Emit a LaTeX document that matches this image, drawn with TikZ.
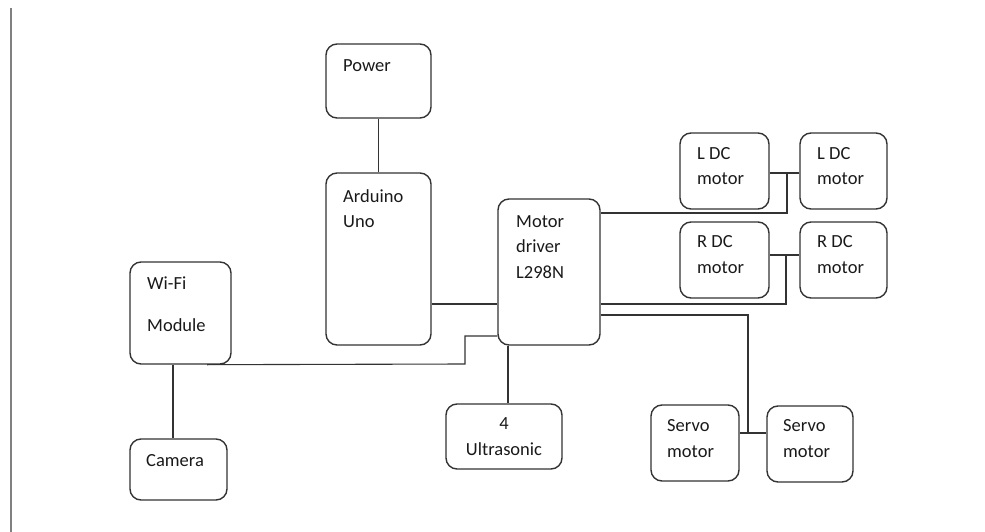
\documentclass[tikz,border=0pt]{standalone}
\usepackage{fontspec}
\setmainfont{Carlito}
\usetikzlibrary{positioning}

\definecolor{ink}{HTML}{333333}

\tikzset{
  blk/.style={draw=ink, line width=1.4pt, rounded corners=11pt, inner sep=0pt},
  lbl/.style={font=\fontsize{18.5}{25.5}\selectfont, text=black!90, inner sep=0pt, anchor=base west, align=left},
  wire/.style={draw=ink, line width=1.1pt}
}

\begin{document}
\begin{tikzpicture}[x=1pt, y=-1pt] % y grows downward, like the image

    \useasboundingbox (0,0) rectangle (985,532);

    % Margin line
    \draw[gray, line width=1.2pt] (11,8) -- (11,532);

    % Blocks
    \foreach \n/\x/\y/\w/\h in {power/378.5/81/105/74, ard/378.5/259/105/172,
        drv/549/272/102/146, wifi/180.5/313/101/102, cam/178.5/469.5/97/61,
        ultra/504/436.5/116/65, ldcA/724.5/171/89/76, ldcB/843.5/171/87/76,
        rdcA/724.5/260/89/76, rdcB/843.5/260/87/76,
        srvA/695/443/88/76, srvB/810/444/86/76}
      \node[blk, minimum width=\w pt, minimum height=\h pt] (\n) at (\x,\y) {};

    % Labels (base = baseline of the last line)
    \node[lbl] (power-t) at (343,72) {Power};
    \node[lbl] (ard-t) at (343,227.5) {Arduino\\Uno};
    \node[lbl] (drv-t) at (516,278) {Motor\\driver\\L298N};
    \node[lbl] (wifi-t) at (147,331) {Wi-Fi\\[16.5pt]Module};
    \node[lbl] (cam-t) at (146,466) {Camera};
    \node[lbl, anchor=base, align=center] (ultra-t) at (504,455) {4\\Ultrasonic};
    \node[lbl] (ldcA-t) at (697,184.5) {L DC\\motor};
    \node[lbl] (ldcB-t) at (817,184.5) {L DC\\motor};
    \node[lbl] (rdcA-t) at (697,273) {R DC\\motor};
    \node[lbl] (rdcB-t) at (817,273) {R DC\\motor};
    \node[lbl] (srvA-t) at (667,457) {Servo\\motor};
    \node[lbl] (srvB-t) at (783,457) {Servo\\motor};

    % Connections
    \draw[wire] (power.south) -- (ard.north);
    \draw[wire] (ard.east |- 0,304) -- (drv.west |- 0,304);
    \draw[wire] (wifi.south -| 207,0) -- (465,364) -- (465,336) -- (drv.west |- 0,336);
    \draw[wire] (wifi.south -| 173,0) -- (cam.north -| 173,0);
    \draw[wire] (drv.south -| 508,0) -- (ultra.north -| 508,0);

    % Motors
    \draw[wire] (drv.east |- 0,213) -- (787,213) -- (787,173);
    \draw[wire] (ldcA.east |- 0,173) -- (ldcB.west |- 0,173);
    \draw[wire] (drv.east |- 0,304) -- (786,304) -- (786,255);
    \draw[wire] (rdcA.east |- 0,255) -- (rdcB.west |- 0,255);
    \draw[wire] (drv.east |- 0,315) -- (748,315) -- (748,433);
    \draw[wire] (srvA.east |- 0,433) -- (srvB.west |- 0,433);

\end{tikzpicture}
\end{document}
